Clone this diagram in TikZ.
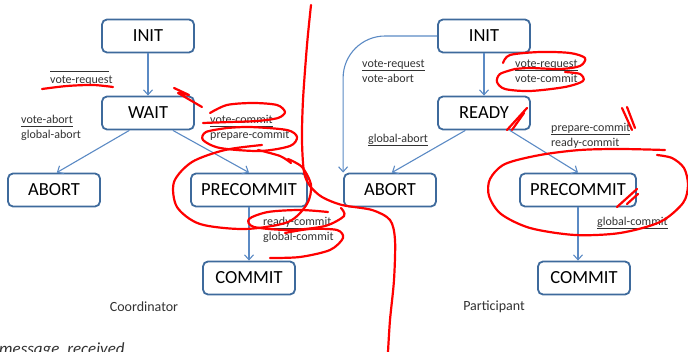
\documentclass[tikz,border=0pt]{standalone}
\usepackage{fontspec}
\setmainfont{Carlito}
\usepackage{tikz}
\usetikzlibrary{arrows.meta}

\definecolor{boxblue}{RGB}{62,106,156}
\definecolor{arrowblue}{RGB}{91,138,196}
\definecolor{labelgray}{RGB}{50,50,50}

% received message = underlined upper line
\newcommand{\rcvd}[1]{\setbox0\hbox{#1}\rlap{\rule[-2.4pt]{\wd0}{0.6pt}}\box0}
\newcommand{\msg}[2]{\begin{tabular}[t]{@{}l@{}}#1\\#2\end{tabular}}

\tikzset{
  stat/.style={draw=boxblue, line width=1.8pt, rounded corners=5pt, fill=white,
    minimum width=92pt, minimum height=33pt, inner sep=0pt,
    font=\fontsize{18.5}{22}\selectfont},
  widestat/.style={stat, minimum width=116pt},
  lbl/.style={anchor=base west, inner sep=0pt, text=labelgray,
    font=\fontsize{12}{15}\selectfont},
  caption/.style={inner sep=0pt, text=labelgray, font=\fontsize{14}{17}\selectfont},
  redpen/.style={-, draw=red, line width=2.2pt, line cap=round, line join=round}
}

\begin{document}
\begin{tikzpicture}[->, >={Straight Barb[length=5pt,width=9pt]}, x=1pt, y=-1pt,
    node distance=77pt, every edge/.style={draw=arrowblue, line width=1.1pt}]
  \useasboundingbox (0,0) rectangle (688,352);

  % coordinator
  \node[stat]     (cInit)   at (148,36)                  {INIT};
  \node[stat]     (cWait)   [below of=cInit]             {WAIT};
  \node[stat]     (cAbort)  [below of=cWait, xshift=-94pt] {ABORT};
  \node[widestat] (cPre)    [below of=cWait, xshift=101pt] {PRECOMMIT};
  \node[stat]     (cCommit) [below of=cPre, node distance=88pt] {COMMIT};

  % participant
  \node[stat]     (pInit)   at (484,36)                  {INIT};
  \node[stat]     (pReady)  [below of=pInit]             {READY};
  \node[stat]     (pAbort)  [below of=pReady, xshift=-94pt] {ABORT};
  \node[widestat] (pPre)    [below of=pReady, xshift=94pt]  {PRECOMMIT};
  \node[stat]     (pCommit) [below of=pPre, node distance=88pt, xshift=6pt] {COMMIT};

  \path (cInit)      edge (cWait)
        (cWait.223)  edge (cAbort.81)
        (cWait.-35)  edge (cPre.north)
        (cPre)       edge (cCommit)
        (pInit)      edge (pReady)
        (pReady.223) edge (pAbort.84)
        (pReady.-34) edge (pPre.north)
        (pPre)       edge (pPre |- pCommit.north)
        ;
  \draw[draw=arrowblue, line width=1.1pt, rounded corners=42pt]
    (pInit.west) -| (pAbort.north west);

  % transition labels
  \node[lbl] (lcInit)  at (50,69)   {\msg{\rcvd{\phantom{vote-reques}}}{vote-request}};
  \node[lbl] (lcAbort) at (21,124)  {\msg{\rcvd{vote-abort}}{global-abort}};
  \node[lbl] (lcPre)   at (210,124) {\msg{\rcvd{vote-commit}}{prepare-commit}};
  \node[lbl] (lcComm)  at (263,226) {\msg{\rcvd{ready-commit}}{global-commit}};
  \node[lbl] (lpAbrt1) at (362,68)  {\msg{\rcvd{vote-request}}{vote-abort}};
  \node[lbl] (lpReady) at (515,68)  {\msg{\rcvd{vote-request}}{vote-commit}};
  \node[lbl] (lpAbrt2) at (368,143) {\rcvd{global-abort}};
  \node[lbl] (lpPre)   at (551,132) {\msg{\rcvd{prepare-commit}}{ready-commit}};
  \node[lbl] (lpComm)  at (597,226) {\rcvd{global-commit}};

  \node[caption] (capC) at (144,307) {Coordinator};
  \node[caption] (capP) at (494,307) {Participant};
  \node[anchor=base west, inner sep=0pt, text=labelgray,
    font=\fontsize{17}{20}\selectfont\itshape] (legend) at (-1,355) {message\ \ received};

  % red pen marks
  \draw[redpen] plot[smooth] coordinates {(311,5) (307,45) (303,100) (302,140) (304,172)
    (310,186) (322,197) (342,205) (372,210) (390,220) (395,240) (394,280) (390,320) (388,352)};
  \draw[redpen] plot[smooth] coordinates {(42,89) (67,86) (93,85) (113,87)};
  \draw[redpen] (174,88) -- (189,95) -- (178,93) -- (202,107);
  \draw[redpen] plot[smooth] coordinates {(210,113) (227,105) (253,103) (277,105) (285,112)
    (278,118) (257,121) (230,122) (203,123)};
  \draw[redpen] plot[smooth] coordinates {(227,128) (250,127) (287,130) (297,137) (290,146)
    (260,151) (220,148) (203,140) (206,132) (227,128)};
  \draw[redpen] plot[smooth] coordinates {(258,150) (280,156) (291,163)};
  \draw[redpen] plot[smooth] coordinates {(262,145) (225,150) (192,162) (174,182) (177,207)
    (200,224) (245,229) (288,222) (307,204) (311,185) (302,167) (288,159)};
  \draw[redpen] plot[smooth] coordinates {(328,212) (300,210) (268,212) (249,219) (254,227)
    (290,230) (325,226) (344,216) (341,208)};
  \draw[redpen] plot[smooth] coordinates {(270,258) (300,257) (330,250) (343,238) (337,230)
    (310,229) (285,233)};
  \draw[redpen] plot[smooth] coordinates {(503,63) (510,55) (540,52) (570,53) (585,58)
    (580,66) (560,69) (530,68) (515,69)};
  \draw[redpen] plot[smooth] coordinates {(515,69) (500,74) (497,82) (505,89) (530,91)
    (565,87) (583,81) (580,74) (565,72)};
  \draw[redpen] (507,130) -- (527,108);
  \draw[redpen] (512,130) -- (524,113);
  \draw[redpen] (622,108) -- (632,130);
  \draw[redpen] (627,107) -- (635,128);
  \draw[redpen] plot[smooth] coordinates {(665,150) (620,149) (580,150) (540,155) (505,164)
    (490,179) (489,196) (501,214) (530,228) (575,235) (620,233) (660,222) (683,203)
    (688,185) (684,168) (672,158) (657,155)};
  \draw[redpen] (617,207) -- (637,189);
  \draw[redpen] (627,204) -- (638,194);
\end{tikzpicture}
\end{document}
